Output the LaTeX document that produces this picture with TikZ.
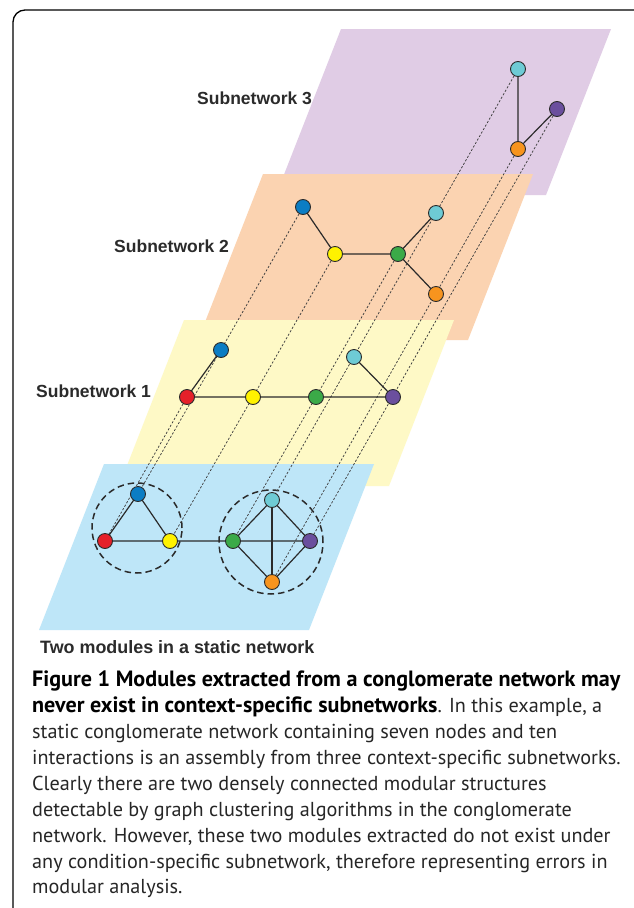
\documentclass[tikz,border=0pt]{standalone}
\usepackage{fontspec}
\setmainfont{Liberation Sans}
\newfontfamily\capfont{PT Sans}
\definecolor{plthree}{HTML}{E0CCE5}
\definecolor{pltwo}{HTML}{FBD3B1}
\definecolor{plone}{HTML}{FEF9C6}
\definecolor{plzero}{HTML}{BEE6F8}
\definecolor{nred}{HTML}{E5202A}
\definecolor{nyellow}{HTML}{FFF200}
\definecolor{ngreen}{HTML}{3BAA48}
\definecolor{nblue}{HTML}{0B7DC4}
\definecolor{ncyan}{HTML}{6ECBD5}
\definecolor{npurple}{HTML}{6B4F9E}
\definecolor{norange}{HTML}{F7941E}
\definecolor{ink}{HTML}{2B2B2B}
\tikzset{
  vtx/.style={circle, draw=ink, line width=0.9pt, minimum size=15pt, inner sep=0pt},
  edge/.style={draw=ink, line width=1.2pt},
  proj/.style={draw=ink!90, line width=0.75pt, dash pattern=on 2.2pt off 1.8pt},
  module/.style={circle, draw=ink, line width=1.5pt, dash pattern=on 6.5pt off 4pt, inner sep=0pt},
  lbl/.style={font=\fontsize{17.5}{20}\selectfont\bfseries, text=ink, anchor=base west, inner sep=0pt},
  capline/.style={font=\capfont\fontsize{20.2}{25}\selectfont, text=black!85, anchor=base west, inner sep=0pt},
}
\newcommand{\capbf}[1]{{\fontsize{22.1}{25}\selectfont\bfseries\color{black}#1}}
\newcommand{\plane}[3]{\fill[#1] (#2,#3) -- ++(270,0) -- ++(-65,166) -- ++(-270,0) -- cycle;}
\begin{document}
\begin{tikzpicture}[x=1pt,y=-1pt]
\useasboundingbox (0,0) rectangle (633,908);
\fill[white] (0,0) rectangle (633,908);
\draw[line width=1.3pt, rounded corners=12pt] (13,10) rectangle (660,935);
% planes
\plane{plthree}{341}{29}
\plane{pltwo}{263}{174}
\plane{plone}{184}{320}
\plane{plzero}{104}{464}
% labels
\node[lbl] (l3) at (197,104) {Subnetwork 3};
\node[lbl] (l2) at (114,252) {Subnetwork 2};
\node[lbl] (l1) at (36,397) {Subnetwork 1};
\node[lbl, font=\fontsize{17.9}{20}\selectfont\bfseries] (l0) at (40,653) {Two modules in a static network};
% vertex coordinates
\coordinate (c3) at (518,69);
\coordinate (p3) at (557,109);
\coordinate (o3) at (518,149);
\coordinate (b2) at (303,207);
\coordinate (y2) at (335,254);
\coordinate (g2) at (398,254);
\coordinate (c2) at (436,213);
\coordinate (o2) at (436,294);
\coordinate (b1) at (221,350);
\coordinate (r1) at (187,397);
\coordinate (y1) at (253,397);
\coordinate (g1) at (316,397);
\coordinate (c1) at (354,357);
\coordinate (p1) at (393,397);
\coordinate (b0) at (138,494);
\coordinate (r0) at (105,541);
\coordinate (y0) at (170,541);
\coordinate (g0) at (233,541);
\coordinate (c0) at (272,500);
\coordinate (p0) at (310,541);
\coordinate (o0) at (272,582);
% module circles
\node[module, minimum size=90pt] (m1) at (137,528) {};
\node[module, minimum size=104pt] (m2) at (271,542) {};
% projection lines
\draw[proj] (c3) -- (c0);
\draw[proj] (p3) -- (p0);
\draw[proj] (o3) -- (o0);
\draw[proj] (b2) -- (b0);
\draw[proj] (y2) -- (y0);
\draw[proj] (g2) -- (g0);
\draw[proj] (r1) -- (r0);
% edges
\draw[edge] (c3) -- (o3) -- (p3);
\draw[edge] (b2) -- (y2) -- (g2) -- (c2);
\draw[edge] (g2) -- (o2);
\draw[edge] (b1) -- (r1) -- (y1) -- (g1) -- (p1) -- (c1);
\draw[edge] (b0) -- (r0) -- (y0) -- (b0);
\draw[edge] (y0) -- (g0) -- (c0) -- (p0) -- (o0) -- (g0) -- (p0);
\draw[edge] (c0) -- (o0);
% vertices
\foreach \n/\c in {c3/ncyan,p3/npurple,o3/norange,
  b2/nblue,y2/nyellow,g2/ngreen,c2/ncyan,o2/norange,
  b1/nblue,r1/nred,y1/nyellow,g1/ngreen,c1/ncyan,p1/npurple,
  b0/nblue,r0/nred,y0/nyellow,g0/ngreen,c0/ncyan,p0/npurple,o0/norange}
  \node[vtx, fill=\c] (v\n) at (\n) {};
% caption
\node[capline] (k1) at (32,686) {\capbf{Figure 1 Modules extracted from a conglomerate network may}};
\node[capline] (k2) at (32,712) {\capbf{never exist in context-specific subnetworks}. In this example, a};
\node[capline] (k3) at (32,738) {static conglomerate network containing seven nodes and ten};
\node[capline] (k4) at (32,764) {interactions is an assembly from three context-specific subnetworks.};
\node[capline] (k5) at (32,790) {Clearly there are two densely connected modular structures};
\node[capline] (k6) at (32,816) {detectable by graph clustering algorithms in the conglomerate};
\node[capline] (k7) at (32,842) {network. However, these two modules extracted do not exist under};
\node[capline] (k8) at (32,868) {any condition-specific subnetwork, therefore representing errors in};
\node[capline] (k9) at (32,893) {modular analysis.};
\end{tikzpicture}
\end{document}
